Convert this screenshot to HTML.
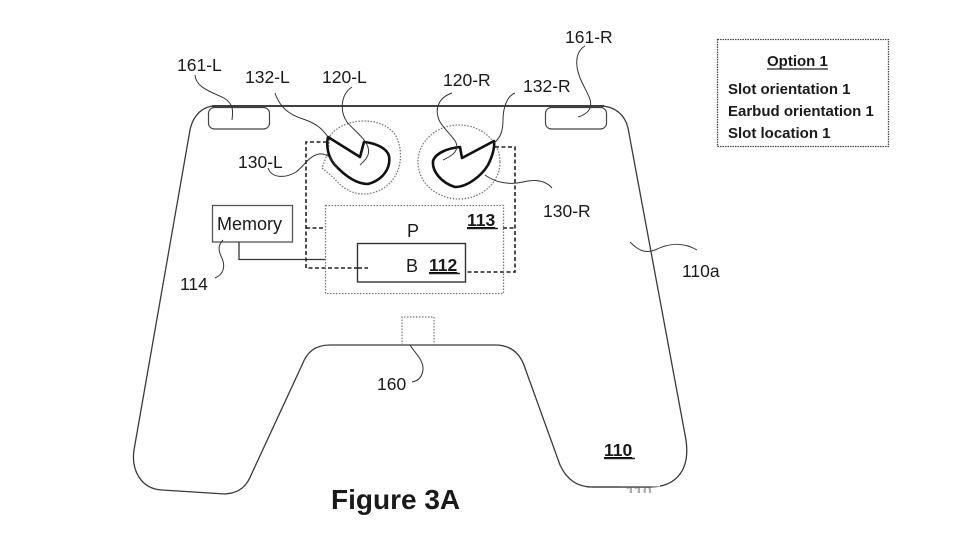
<!DOCTYPE html>
<html><head><meta charset="utf-8"><style>
html,body{margin:0;padding:0;background:#fff;}
svg{display:block;}
text{font-family:"Liberation Sans",Arial,sans-serif;fill:#1a1a1a;}
</style></head><body>
<svg width="960" height="540" viewBox="0 0 960 540" xmlns="http://www.w3.org/2000/svg">
<rect width="960" height="540" fill="#fff"/>

<!-- Controller outline -->
<path d="M215,106 L600,106 C615,106 625,115 628,128 L686,440 C690,468 678,487 650,487 L592,487 C576,487 566,478 560,465 L525,368 C520,352 510,345 495,345 L330,345 C315,345 307,352 302,365 L252,473 C247,486 240,493 225,494 L162,490 C141,489 131,470 134,450 L190,130 C193,115 203,106 215,106 Z" fill="none" stroke="#3a3a3a" stroke-width="1.3"/>
<line x1="212" y1="106" x2="604" y2="106" stroke="#111" stroke-width="1.6"/>

<!-- ghost 110 under bottom line -->
<text x="626" y="497" font-size="16" font-weight="bold" fill="#aaa" style="fill:#aaa" clip-path="url(#cg)">110</text>
<clipPath id="cg"><rect x="600" y="487" width="80" height="6"/></clipPath>
<rect x="620" y="480" width="40" height="6.5" fill="#fff"/>
<line x1="592" y1="487" x2="652" y2="487" stroke="#3a3a3a" stroke-width="1.3"/>

<!-- slots -->
<rect x="208.5" y="107.5" width="61" height="21.5" rx="6" fill="none" stroke="#444" stroke-width="1.2"/>
<rect x="545.5" y="107.5" width="61" height="21.5" rx="6" fill="none" stroke="#444" stroke-width="1.2"/>

<!-- dotted circles 130 -->
<path d="M330,136 C342,118 382,114 396,136 C406,156 400,186 372,193 C354,197 342,188 334,178 L322,168 L328,152 Z" fill="none" stroke="#777" stroke-width="1.3" stroke-dasharray="1.5 1.5"/>
<ellipse cx="459" cy="162" rx="41" ry="37" fill="none" stroke="#777" stroke-width="1.3" stroke-dasharray="1.5 1.5"/>

<!-- earbuds -->
<path d="M328,137 L360,157 L364,142 C375,143 387,148 389,156 C391,168 383,180 368,184 C356,184 344,175 334,164 C328,156 326,146 328,137 Z" fill="none" stroke="#111" stroke-width="2.6" stroke-linejoin="round"/>
<path d="M494,141 L462,158 L460,147 C450,148 436,152 433,161 C432,172 442,183 455,187 C468,187 482,175 488,165 C492,157 495,149 494,141 Z" fill="none" stroke="#111" stroke-width="2.6" stroke-linejoin="round"/>

<!-- dashed brackets -->
<g fill="none" stroke="#222" stroke-width="1.6" stroke-dasharray="4 2.5">
<path d="M327,142 H306 V268 H358"/>
<path d="M306,228 H325"/>
<path d="M495,147 H515 V272 H466"/>
<path d="M503,228 H515"/>
</g>

<!-- P box 113 -->
<rect x="325.5" y="205.5" width="178" height="88" fill="none" stroke="#777" stroke-width="1.3" stroke-dasharray="1.5 1.5"/>
<!-- B box 112 -->
<rect x="357.5" y="243.5" width="108" height="38.5" fill="#fff" stroke="#333" stroke-width="1.4"/>
<path d="M358,268 H368" stroke="#222" stroke-width="1.6" stroke-dasharray="4 2.5" fill="none"/>

<!-- memory -->
<rect x="212.5" y="205.5" width="80" height="36.5" fill="none" stroke="#555" stroke-width="1.3"/>
<path d="M239,242 V259.5 H325" fill="none" stroke="#333" stroke-width="1.3"/>

<!-- connector 160 -->
<path d="M402,345 V317 H434 V345" fill="none" stroke="#777" stroke-width="1.2" stroke-dasharray="1.5 1.5"/>

<!-- leader lines -->
<g fill="none" stroke="#333" stroke-width="1">
<path d="M195,75 C196,88 212,92 224,98 C234,104 233,112 232,120"/>
<path d="M275,93 C280,108 290,115 303,119 C318,124 323,130 328,137"/>
<path d="M352,87 C340,95 340,112 347,122 C355,132 372,142 368,155 C366,160 362,163 360,165"/>
<path d="M268,168 C272,179 286,178 296,172 C305,165 309,156 319,154 C328,153 333,160 337,168"/>
<path d="M452,93 C440,97 433,108 440,122 C448,135 462,142 455,152 C452,156 447,158 443,160"/>
<path d="M515,93 C507,96 503,108 503,120 C503,132 500,138 494,143"/>
<path d="M585,46 C575,52 575,65 580,78 C586,92 593,100 590,108 C588,113 582,116 578,117"/>
<path d="M552,188 C545,180 535,179 523,182 C510,185 496,183 485,175"/>
<path d="M630,242 C638,250 645,254 655,250 C665,245 680,240 697,250"/>
<path d="M215,278 C222,275 227,268 221,256 C217,248 220,243 223,240"/>
<path d="M410,345 C414,352 424,360 423,370 C422,377 418,381 412,382"/>
</g>

<!-- labels -->
<g font-size="17.5">
<text x="177" y="71">161-L</text>
<text x="245" y="83">132-L</text>
<text x="322" y="83">120-L</text>
<text x="443" y="86">120-R</text>
<text x="523" y="92">132-R</text>
<text x="565" y="43">161-R</text>
<text x="238" y="168">130-L</text>
<text x="543" y="217">130-R</text>
<text x="682" y="277">110a</text>
<text x="180" y="290">114</text>
<text x="377" y="390">160</text>
<text x="217" y="230" font-size="18">Memory</text>
<text x="407" y="237" font-size="18">P</text>
<text x="406" y="272" font-size="18">B</text>
</g>
<g font-size="17.5" font-weight="bold" text-decoration="underline">
<text x="467" y="226">113</text>
<text x="429" y="271">112</text>
<text x="604" y="456">110</text>
</g>
<line x1="467" y1="228.5" x2="498" y2="228.5" stroke="#222" stroke-width="1.5"/>
<line x1="429" y1="273.5" x2="460" y2="273.5" stroke="#222" stroke-width="1.5"/>
<line x1="604" y1="458.5" x2="635" y2="458.5" stroke="#222" stroke-width="1.5"/>

<text x="331" y="509" font-size="28" font-weight="bold">Figure 3A</text>

<!-- Option box -->
<rect x="717.5" y="39.5" width="171" height="107" fill="none" stroke="#444" stroke-width="1.3" stroke-dasharray="1.5 1"/>
<g font-size="15" font-weight="bold">
<text x="767" y="66">Option 1</text>
<text x="728" y="94">Slot orientation 1</text>
<text x="728" y="116">Earbud orientation 1</text>
<text x="728" y="138">Slot location 1</text>
</g>
<line x1="767" y1="69" x2="828" y2="69" stroke="#222" stroke-width="1.2"/>
</svg>
</body></html>
